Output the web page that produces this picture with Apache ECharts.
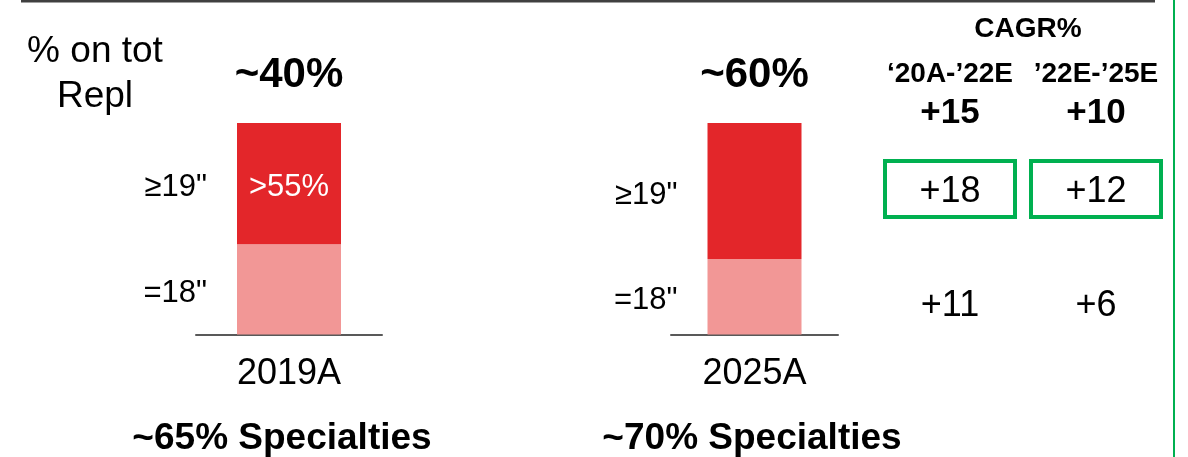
<!DOCTYPE html>
<html><head><meta charset="utf-8">
<script src="https://cdn.jsdelivr.net/npm/echarts@6/dist/echarts.min.js"></script>
<style>html,body{margin:0;padding:0;background:#fff}#c{width:1188px;height:457px}</style>
</head><body><div id="c"></div>
<script>
const years = ['2019A', '2025A'];
const share18 = [42.7, 35.7];
const share19 = [57.3, 64.3];
const segmentNames = ['=18"', '≥19"'];
const totalLabels = ['~40%', '~60%'];
const insideLabels = ['>55%', ''];
const specialtiesLabels = ['~65% Specialties', '~70% Specialties'];
const cagrTitle = 'CAGR%';
const cagrPeriods = ['‘20A-’22E', '’22E-’25E'];
const cagrTotal = ['+15', '+10'];
const cagr19 = ['+18', '+12'];
const cagr18 = ['+11', '+6'];

const FONT = '"Liberation Sans", Arial, Helvetica, sans-serif';
const RED = '#E3262A';
const PINK = '#F29796';
const GREEN = '#00B050';
const barWidths = [104, 94];
const grids = [
  { left: 196, width: 186, top: 123, bottom: 121 },
  { left: 671, width: 167, top: 123, bottom: 121 }
];

const xAxes = years.map((y, i) => ({
  type: 'category', gridIndex: i, data: [y],
  axisLine: { lineStyle: { color: '#595959', width: 2 } },
  axisTick: { show: false },
  axisLabel: {
    margin: 22,
    formatter: () => '{a|' + years[i] + '}\n{b|' + specialtiesLabels[i] + '}',
    rich: {
      a: { fontSize: 36, lineHeight: 36, color: '#000', fontFamily: FONT },
      b: { fontSize: 37, lineHeight: 92, fontWeight: 'bold', color: '#000', fontFamily: FONT,
        padding: [0, i === 0 ? 14 : 5, 0, 0] }
    }
  }
}));
const yAxes = years.map((y, i) => ({ type: 'value', gridIndex: i, min: 0, max: 100, show: false }));

const series = [];
years.forEach((y, i) => {
  series.push({
    type: 'bar', name: segmentNames[0], xAxisIndex: i, yAxisIndex: i, stack: 's' + i,
    data: [share18[i]], barWidth: barWidths[i],
    itemStyle: { color: PINK },
    label: { show: true, position: 'left', distance: 30, offset: [0, 4], formatter: segmentNames[0],
      fontSize: 31, color: '#000', fontFamily: FONT }
  });
  const mp = [{
    coord: [y, share18[i] + share19[i]],
    label: { show: true, position: 'top', distance: 26, formatter: totalLabels[i],
      fontSize: 42, fontWeight: 'bold', color: '#000', fontFamily: FONT }
  }];
  if (insideLabels[i]) {
    mp.push({
      coord: [y, share18[i] + share19[i] / 2],
      label: { show: true, position: 'inside', offset: [0, 4], formatter: insideLabels[i],
        fontSize: 31, color: '#fff', fontFamily: FONT }
    });
  }
  series.push({
    type: 'bar', name: segmentNames[1], xAxisIndex: i, yAxisIndex: i, stack: 's' + i,
    data: [share19[i]], barWidth: barWidths[i],
    itemStyle: { color: RED },
    label: { show: true, position: 'left', distance: 30, offset: [0, 4], formatter: segmentNames[1],
      fontSize: 31, color: '#000', fontFamily: FONT },
    markPoint: { symbol: 'rect', symbolSize: 1, itemStyle: { color: 'rgba(0,0,0,0)' },
      silent: true, data: mp }
  });
});

function txt(text, x, y, size, bold, color) {
  return { type: 'text', x: x, y: y, silent: true,
    style: { text: text, fontSize: size, fontWeight: bold ? 'bold' : 'normal', fontFamily: FONT,
      fill: color || '#000', align: 'center', verticalAlign: 'middle', lineHeight: 45.5 } };
}
const colX = [950, 1096];
const graphic = [
  { type: 'line', shape: { x1: 21, y1: 1, x2: 1155, y2: 1 }, style: { stroke: '#404040', lineWidth: 3 } },
  { type: 'line', shape: { x1: 1174, y1: 0, x2: 1174, y2: 457 }, style: { stroke: GREEN, lineWidth: 2 } },
  txt('% on tot\nRepl', 95, 74.5, 37, false),
  txt(cagrTitle, 1028, 29, 28, true)
];
colX.forEach((x, j) => {
  graphic.push(txt(cagrPeriods[j], x, 74, 28, true));
  graphic.push(txt(cagrTotal[j], x, 113.5, 35, true));
  graphic.push({ type: 'rect', shape: { x: x - 65, y: 161, width: 130, height: 56 },
    style: { fill: 'none', stroke: GREEN, lineWidth: 4 } });
  graphic.push(txt(cagr19[j], x, 192.5, 36, false));
  graphic.push(txt(cagr18[j], x, 306.5, 36, false));
});

const chart = echarts.init(document.getElementById('c'), null, { renderer: 'canvas' });
chart.setOption({
  animation: false,
  backgroundColor: '#fff',
  grid: grids,
  xAxis: xAxes,
  yAxis: yAxes,
  series: series,
  graphic: graphic
});
</script></body></html>
